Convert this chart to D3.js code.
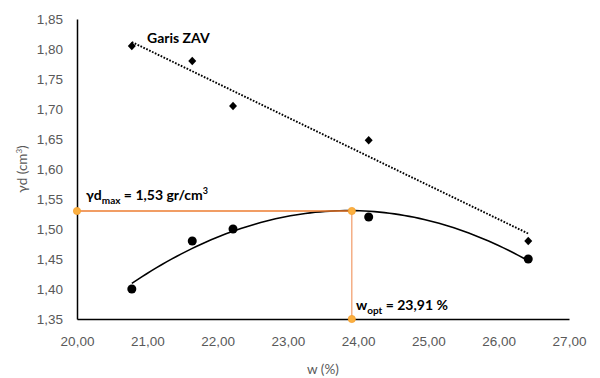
<!DOCTYPE html>
<html>
<head>
<meta charset="utf-8">
<script src="https://cdn.jsdelivr.net/npm/d3@7"></script>
<style>
  body { margin: 0; background: #fff; }
  svg { font-family: Lato, "Open Sans", sans-serif; }
  .tick-label { fill: #595959; font-size: 13.5px; }
  .note { fill: #000; font-weight: bold; font-size: 14px; }
</style>
</head>
<body>
<div id="chart"></div>
<script>
// moisture content w (%) for each sample
const wValues = [20.78, 21.64, 22.22, 24.15, 26.42];
// dry density of the compaction test
const gammaD = [1.40, 1.48, 1.50, 1.52, 1.45];
// zero air voids line
const gammaZav = [1.805, 1.78, 1.705, 1.648, 1.48];

const xTicks = [20, 21, 22, 23, 24, 25, 26, 27];
const yTicks = [1.35, 1.40, 1.45, 1.50, 1.55, 1.60, 1.65, 1.70, 1.75, 1.80, 1.85];

const wOpt = 23.91;
const gammaMax = 1.53;

const width = 600, height = 378;
const margin = { top: 19, right: 31, bottom: 59, left: 77 };

const svg = d3.select('#chart').append('svg')
  .attr('width', width)
  .attr('height', height);

const xScale = d3.scaleLinear().domain([20, 27]).range([margin.left, width - margin.right]);
const yScale = d3.scaleLinear().domain([1.35, 1.85]).range([height - margin.bottom, margin.top]);

const locale = d3.formatLocale({ decimal: ',', thousands: '.', grouping: [3], currency: ['', ''] });
const fmt = locale.format('.2f');

// axes (no tick marks, just the lines + labels)
const xAxis = svg.append('g')
  .attr('transform', `translate(0, ${yScale(1.35)})`)
  .call(d3.axisBottom(xScale).tickValues(xTicks).tickFormat(fmt).tickSize(0).tickPadding(17));
xAxis.select('.domain').attr('stroke', '#000').attr('stroke-width', 1.5);
xAxis.selectAll('text').attr('class', 'tick-label').attr('font-family', null).attr('font-size', null);

const yAxis = svg.append('g')
  .attr('transform', `translate(${xScale(20)}, 0)`)
  .call(d3.axisLeft(yScale).tickValues(yTicks).tickFormat(fmt).tickSize(0).tickPadding(14));
yAxis.select('.domain').attr('stroke', '#000').attr('stroke-width', 1.5);
yAxis.selectAll('text').attr('class', 'tick-label').attr('font-family', null).attr('font-size', null);

// axis titles
svg.append('text')
  .attr('class', 'tick-label')
  .attr('text-anchor', 'middle')
  .attr('x', (xScale(20) + xScale(27)) / 2)
  .attr('y', 374)
  .text('w (%)');

const yTitle = svg.append('text')
  .attr('class', 'tick-label')
  .attr('text-anchor', 'middle')
  .attr('font-size', '13px')
  .attr('transform', `translate(27, ${(yScale(1.35) + yScale(1.85)) / 2}) rotate(-90)`);
yTitle.append('tspan').text('γd (cm');
yTitle.append('tspan').attr('baseline-shift', 'super').attr('font-size', '8px').text('3');
yTitle.append('tspan').text(')');

// ZAV linear trendline (least squares)
const pairsZ = wValues.map((w, i) => [w, gammaZav[i]]);
const mx = d3.mean(wValues), my = d3.mean(gammaZav);
const slope = d3.sum(pairsZ, p => (p[0] - mx) * (p[1] - my)) / d3.sum(wValues, w => (w - mx) ** 2);
const icpt = my - slope * mx;
const xMin = d3.min(wValues), xMax = d3.max(wValues);

svg.append('line')
  .attr('x1', xScale(xMin)).attr('y1', yScale(icpt + slope * xMin))
  .attr('x2', xScale(xMax)).attr('y2', yScale(icpt + slope * xMax))
  .attr('stroke', '#000')
  .attr('stroke-width', 1.9)
  .attr('stroke-dasharray', '1.7 1.5');

// quadratic trendline for compaction curve
function polyFit2(xs, ys) {
  const s = k => d3.sum(xs, x => x ** k);
  const sy = k => d3.sum(xs, (x, i) => x ** k * ys[i]);
  const A = [[xs.length, s(1), s(2)], [s(1), s(2), s(3)], [s(2), s(3), s(4)]];
  const B = [sy(0), sy(1), sy(2)];
  // gaussian elimination
  for (let i = 0; i < 3; i++) {
    for (let j = i + 1; j < 3; j++) {
      const f = A[j][i] / A[i][i];
      for (let k = i; k < 3; k++) A[j][k] -= f * A[i][k];
      B[j] -= f * B[i];
    }
  }
  const c = [0, 0, 0];
  for (let i = 2; i >= 0; i--) {
    let v = B[i];
    for (let k = i + 1; k < 3; k++) v -= A[i][k] * c[k];
    c[i] = v / A[i][i];
  }
  return c;
}
const t0 = d3.mean(wValues);
const coef = polyFit2(wValues.map(w => w - t0), gammaD);
const curveX = d3.range(xMin, xMax + 0.001, (xMax - xMin) / 80);
const line = d3.line()
  .x(w => xScale(w))
  .y(w => { const t = w - t0; return yScale(coef[0] + coef[1] * t + coef[2] * t * t); });

svg.append('path')
  .datum(curveX)
  .attr('d', line)
  .attr('fill', 'none')
  .attr('stroke', '#000')
  .attr('stroke-width', 1.6);

// optimum guide lines
const orange = '#ED7D31';
svg.append('line')
  .attr('x1', xScale(20)).attr('y1', yScale(gammaMax))
  .attr('x2', xScale(wOpt)).attr('y2', yScale(gammaMax))
  .attr('stroke', orange).attr('stroke-width', 1.5);
svg.append('line')
  .attr('x1', xScale(wOpt)).attr('y1', yScale(gammaMax))
  .attr('x2', xScale(wOpt)).attr('y2', yScale(1.35))
  .attr('stroke', '#F19A66').attr('stroke-width', 1.2);

svg.selectAll('.opt-dot')
  .data([[20, gammaMax], [wOpt, gammaMax], [wOpt, 1.35]])
  .enter().append('circle')
  .attr('class', 'opt-dot')
  .attr('cx', d => xScale(d[0]))
  .attr('cy', d => yScale(d[1]))
  .attr('r', 3.6)
  .attr('fill', '#FBB040')
  .attr('stroke', '#F5A030')
  .attr('stroke-width', 0.8);

// data markers
svg.selectAll('.pt')
  .data(wValues)
  .enter().append('circle')
  .attr('class', 'pt')
  .attr('cx', w => xScale(w))
  .attr('cy', (w, i) => yScale(gammaD[i]))
  .attr('r', 4.5)
  .attr('fill', '#000');

svg.selectAll('.zav')
  .data(wValues)
  .enter().append('path')
  .attr('class', 'zav')
  .attr('transform', (w, i) => `translate(${xScale(w)}, ${yScale(gammaZav[i])})`)
  .attr('d', 'M0,-4.3L4,0L0,4.3L-4,0Z')
  .attr('fill', '#000');

// annotations
svg.append('text')
  .attr('class', 'note')
  .attr('x', 147).attr('y', 43)
  .text('Garis ZAV');

const gNote = svg.append('text')
  .attr('class', 'note')
  .attr('x', 86).attr('y', 200);
gNote.append('tspan').text('γd');
gNote.append('tspan').attr('dy', 4).attr('font-size', '10px').text('max');
gNote.append('tspan').attr('dy', -4).text(' = 1,53 gr/cm');
gNote.append('tspan').attr('dy', -6).attr('font-size', '9px').text('3');

const wNote = svg.append('text')
  .attr('class', 'note')
  .attr('x', 356).attr('y', 310);
wNote.append('tspan').text('w');
wNote.append('tspan').attr('dy', 4).attr('font-size', '10px').text('opt');
wNote.append('tspan').attr('dy', -4).text(' = 23,91 %');
</script>
</body>
</html>
